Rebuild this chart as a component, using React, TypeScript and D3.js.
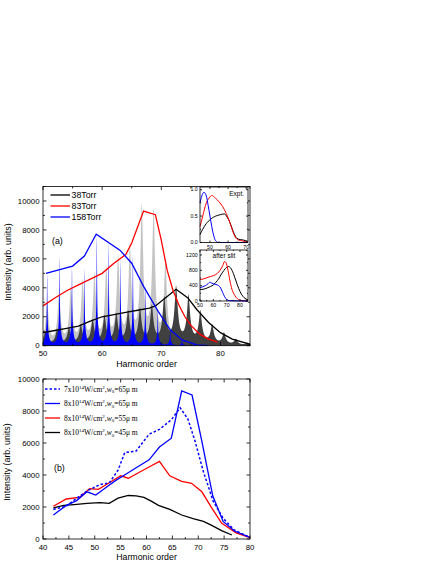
import { useMemo } from 'react'
import * as d3 from 'd3'

// ---- panel (a): envelopes ----
const ENV_38 = [[50, 900], [52, 1050], [54, 1200], [56, 1350], [58, 1700], [60, 2000], [62, 2150], [64, 2300], [66, 2450], [68, 2600], [69, 2750], [71, 3400], [72.5, 3900], [74.5, 3300], [76, 2500], [78, 1600], [80, 900], [82, 450], [85, 100]]
const ENV_83 = [[50, 2750], [52, 3300], [54, 3800], [56, 4200], [58, 4600], [60, 5000], [62, 5700], [64, 6300], [65, 7100], [67, 9300], [69, 9050], [70, 7300], [71, 5200], [72, 3800], [73, 2800], [74, 2000], [75, 1400], [76.5, 800], [78, 450], [79.5, 250]]
const ENV_158 = [[50.5, 5000], [55, 5500], [57, 6200], [59, 7700], [63, 6600], [65, 5700], [67, 4100], [69.5, 2350], [71.5, 1100], [73.5, 400], [76, 60], [78, 0]]

// ---- panel (a): harmonic peaks of the spectra [order, height] ----
const PEAKS_83 = [[50.7, 2900], [52.7, 3350], [54.7, 3750], [56.7, 4250], [58.7, 4650], [60.7, 5050], [62.7, 5850], [64.7, 6400], [66.7, 9300], [68.7, 9050], [70.7, 5500], [72.7, 2900], [74.7, 1600], [76.7, 800], [78.7, 400], [80.7, 150]]
const PEAKS_38 = [[50.4, 950], [52.4, 1050], [54.4, 1150], [56.4, 1300], [58.4, 1650], [60.4, 1900], [62.4, 2050], [64.4, 2200], [66.4, 2350], [68.4, 2550], [70.5, 3100], [72.5, 3850], [74.6, 3250], [76.6, 2200], [78.6, 1300], [80.6, 800], [82.6, 400], [84.6, 150]]
const PEAKS_158 = [[50.7, 5000], [52.8, 6200], [54.9, 5500], [57.0, 5300], [59.1, 7700], [61.1, 7100], [63.1, 5900], [65.2, 6300], [67.3, 4100], [69.4, 2500], [71.5, 1200], [73.5, 450], [75.5, 120]]

// ---- insets ----
const EXPT_38 = [[44.5, 0.15], [46, 0.25], [48, 0.36], [50, 0.43], [52, 0.48], [54, 0.51], [56, 0.53], [58, 0.54], [59.5, 0.48], [61, 0.38], [62.5, 0.24], [64, 0.12], [66, 0.06], [68, 0.05], [71, 0.02]]
const EXPT_83 = [[44.5, 0.3], [46, 0.5], [48, 0.75], [50, 0.86], [51, 0.89], [53, 0.84], [55, 0.77], [57, 0.68], [59, 0.55], [61, 0.38], [62.5, 0.22], [64, 0.1], [65.5, 0.05], [68, 0.03], [71, 0.0]]
const EXPT_158 = [[44.5, 0.75], [45.5, 0.88], [46.7, 0.95], [48, 0.88], [49, 0.7], [50, 0.5], [51, 0.3], [52, 0.14], [53, 0.04], [54.5, 0.0], [71, 0.0]]
const SLIT_38 = [[50, 300], [53, 310], [56, 350], [58, 380], [60, 420], [62, 490], [64, 580], [66, 700], [68, 800], [70, 880], [71.5, 900], [73, 860], [75, 720], [77, 520], [79, 330], [81, 180], [83, 90], [86, 30]]
const SLIT_83 = [[50, 560], [53, 580], [56, 620], [60, 660], [63, 720], [65, 800], [67, 920], [68.5, 1030], [69.5, 1000], [71, 800], [72.5, 520], [74, 300], [76, 150], [78, 60], [80, 20], [86, 0]]
const SLIT_158 = [[50, 350], [52, 370], [54, 400], [56, 450], [57.5, 490], [58.5, 470], [60, 450], [62, 430], [64, 400], [65.5, 340], [67, 220], [68.5, 110], [70, 40], [72, 10], [86, 0]]

// ---- panel (b) ----
const B_7_65 = [[42, 1850], [44.5, 2050], [46.5, 2550], [48.8, 3050], [51, 3400], [52.8, 3500], [54.5, 4300], [55.8, 5400], [58, 5500], [60.5, 6550], [62.5, 6850], [64.8, 7450], [66.5, 8200], [68, 7500], [69.4, 6100], [71, 4200], [72.9, 2350], [74.8, 1300], [77, 550], [80, 100]]
const B_8_65 = [[42, 1500], [44.5, 2100], [46.5, 2400], [48.5, 2950], [50.2, 2750], [52.3, 3250], [54, 3650], [56, 4050], [58, 4450], [60.5, 4950], [62.5, 5750], [64.8, 6300], [66.8, 9250], [68.8, 9000], [70.7, 6100], [72.8, 2700], [74.8, 1100], [77, 500], [80, 100]]
const B_8_55 = [[42, 2050], [44.5, 2500], [47, 2600], [49, 3150], [50.7, 3100], [52.5, 3450], [55, 3950], [56.5, 3800], [58.8, 4200], [60.5, 4500], [62.5, 4850], [64.5, 3950], [66.8, 3600], [68.7, 3480], [70.7, 2950], [72.6, 1950], [74.5, 1000], [77.3, 380], [80, 80]]
const B_8_45 = [[42, 1950], [44, 2100], [46, 2150], [48.5, 2230], [51, 2270], [52.8, 2230], [54.5, 2550], [56.5, 2720], [58, 2700], [59.5, 2600], [61, 2350], [62.3, 2100], [64.5, 1850], [66.8, 1500], [69, 1280], [71, 1100], [72.6, 850], [74.5, 520], [76.5, 250]]

const LEGEND_A = ['38Torr', '83Torr', '158Torr']
const LEGEND_B = [
  { i: '7', w: '65', dash: true, color: '#0000ff' },
  { i: '8', w: '65', dash: false, color: '#0000ff' },
  { i: '8', w: '55', dash: false, color: '#ff0000' },
  { i: '8', w: '45', dash: false, color: '#000000' },
]

const SANS = '"Liberation Sans", Arial, sans-serif'
const SERIF = '"Liberation Serif", "Times New Roman", serif'

type P = number[][]

// peak profile: a narrow needle plus a wider foot
function spectrum(peaks: P, x0: number, x1: number, needle: number, foot: number, mix: number) {
  const pts: [number, number][] = []
  for (let x = x0; x <= x1 + 1e-9; x += 0.02) {
    let v = 0
    for (const [c, h] of peaks) {
      const d = x - c
      v += h * ((1 - mix) / (1 + (d / needle) ** 2) + mix / (1 + (d / foot) ** 2))
    }
    pts.push([x, v])
  }
  return pts
}

function Ticks({ x, y, xMajor, xMinor, yMajor, yMinor, len, xFmt, yFmt, fs, xOff }: any) {
  const [x0, x1] = x.range()
  const [y0, y1] = y.range()
  const L = len, l = len * 0.55
  return (
    <g stroke="#000" strokeWidth={0.8}>
      {xMinor.map((v: number) => (
        <g key={'xm' + v}>
          <line x1={x(v)} x2={x(v)} y1={y0} y2={y0 - l} />
          <line x1={x(v)} x2={x(v)} y1={y1} y2={y1 + l} />
        </g>
      ))}
      {yMinor.map((v: number) => (
        <g key={'ym' + v}>
          <line x1={x0} x2={x0 + l} y1={y(v)} y2={y(v)} />
          <line x1={x1} x2={x1 - l} y1={y(v)} y2={y(v)} />
        </g>
      ))}
      {xMajor.map((v: number) => (
        <g key={'xM' + v}>
          <line x1={x(v)} x2={x(v)} y1={y0} y2={y0 - L} />
          <line x1={x(v)} x2={x(v)} y1={y1} y2={y1 + L} />
          <text x={x(v)} y={y0 + xOff} fontSize={fs} textAnchor="middle" stroke="none" fill="#000">{xFmt(v)}</text>
        </g>
      ))}
      {yMajor.map((v: number) => (
        <g key={'yM' + v}>
          <line x1={x0} x2={x0 + L} y1={y(v)} y2={y(v)} />
          <line x1={x1} x2={x1 - L} y1={y(v)} y2={y(v)} />
          <text x={x0 - fs * 0.45} y={y(v) + fs * 0.35} fontSize={fs} textAnchor="end" stroke="none" fill="#000">{yFmt(v)}</text>
        </g>
      ))}
      <rect x={x0} y={y1} width={x1 - x0} height={y0 - y1} fill="none" />
    </g>
  )
}

export default function App() {
  // panel (a)
  const xa = d3.scaleLinear().domain([50, 85]).range([43, 250])
  const ya = d3.scaleLinear().domain([0, 11000]).range([345.7, 186.5])
  // panel (b)
  const xb = d3.scaleLinear().domain([40, 80]).range([43, 250])
  const yb = d3.scaleLinear().domain([0, 10000]).range([539, 379])
  // insets
  const xi1 = d3.scaleLinear().domain([44.5, 71]).range([200, 248])
  const yi1 = d3.scaleLinear().domain([0, 1.05]).range([242.5, 187])
  const xi2 = d3.scaleLinear().domain([50, 86]).range([200, 248])
  const yi2 = d3.scaleLinear().domain([0, 1330]).range([301, 250])

  const lineA = d3.line<number[]>().x(d => xa(d[0])).y(d => ya(d[1]))
  const lineB = d3.line<number[]>().x(d => xb(d[0])).y(d => yb(d[1]))
  const lineI1 = d3.line<number[]>().x(d => xi1(d[0])).y(d => yi1(d[1])).curve(d3.curveMonotoneX)
  const lineI2 = d3.line<number[]>().x(d => xi2(d[0])).y(d => yi2(d[1])).curve(d3.curveMonotoneX)
  const area = d3.area<[number, number]>().x(d => xa(d[0])).y0(ya(0)).y1(d => ya(Math.min(d[1], 11000)))

  const spec = useMemo(() => ({
    s83: spectrum(PEAKS_83, 50, 85, 0.24, 0.5, 0.3),
    s38: spectrum(PEAKS_38, 50, 85, 0.25, 0.6, 0.35),
    s158: spectrum(PEAKS_158, 50, 85, 0.05, 0.3, 0.22),
  }), [])

  const range = (a: number, b: number, s: number) => d3.range(a, b + 1e-9, s)

  return (
    <svg width={436} height={564} style={{ position: 'absolute', left: 0, top: 0, display: 'block', fontFamily: SANS }}>
      <defs>
        <clipPath id="clipA"><rect x={43} y={186.5} width={207} height={159.2} /></clipPath>
        <clipPath id="clipB"><rect x={43} y={379} width={207} height={160} /></clipPath>
      </defs>

      {/* ---------- panel (a) ---------- */}
      <g clipPath="url(#clipA)">
        <path d={area(spec.s83) || ''} fill="#c4c4c4" />
        <path d={area(spec.s38) || ''} fill="#404040" />
        <path d={area(spec.s158) || ''} fill="#0000ff" />
        <path d={lineA(ENV_38) || ''} fill="none" stroke="#000" strokeWidth={1.3} />
        <path d={lineA(ENV_83) || ''} fill="none" stroke="#ff0000" strokeWidth={1.3} />
        <path d={lineA(ENV_158) || ''} fill="none" stroke="#0000ff" strokeWidth={1.3} />
      </g>
      <Ticks x={xa} y={ya} xMajor={[50, 60, 70, 80]} xMinor={[55, 65, 75, 85]}
        yMajor={range(0, 10000, 2000)} yMinor={range(1000, 11000, 2000)} len={3.5}
        xFmt={(v: number) => v} yFmt={(v: number) => v} fs={7.8} xOff={10.5} />
      <text x={146.5} y={366.5} fontSize={8.8} textAnchor="middle">Harmonic order</text>
      <text transform="translate(10.5,262) rotate(-90)" fontSize={8.8} textAnchor="middle">Intensity (arb. units)</text>
      <text x={52} y={244} fontSize={8.8}>(a)</text>
      {LEGEND_A.map((t, i) => (
        <g key={t}>
          <line x1={50.5} x2={70} y1={195 + i * 11} y2={195 + i * 11} stroke={['#000', '#ff0000', '#0000ff'][i]} strokeWidth={1.3} />
          <text x={71.5} y={198 + i * 11} fontSize={8.8}>{t}</text>
        </g>
      ))}

      {/* inset: Expt. */}
      <rect x={200} y={187} width={48} height={55.5} fill="#fff" />
      <path d={lineI1(EXPT_38) || ''} fill="none" stroke="#000" strokeWidth={1} />
      <path d={lineI1(EXPT_83) || ''} fill="none" stroke="#ff0000" strokeWidth={1} />
      <path d={lineI1(EXPT_158) || ''} fill="none" stroke="#0000ff" strokeWidth={1} />
      <Ticks x={xi1} y={yi1} xMajor={[50, 60, 70]} xMinor={[55, 65]}
        yMajor={[0, 0.5, 1.0]} yMinor={[0.25, 0.75]} len={2}
        xFmt={(v: number) => v} yFmt={(v: number) => v.toFixed(1)} fs={5.2} xOff={6} />
      <text x={244} y={196} fontSize={6.5} textAnchor="end">Expt.</text>

      {/* inset: after slit */}
      <rect x={200} y={250} width={48} height={51} fill="#fff" />
      <path d={lineI2(SLIT_38) || ''} fill="none" stroke="#000" strokeWidth={1} />
      <path d={lineI2(SLIT_83) || ''} fill="none" stroke="#ff0000" strokeWidth={1} />
      <path d={lineI2(SLIT_158) || ''} fill="none" stroke="#0000ff" strokeWidth={1} />
      <Ticks x={xi2} y={yi2} xMajor={[50, 60, 70, 80]} xMinor={[55, 65, 75, 85]}
        yMajor={[0, 400, 800, 1200]} yMinor={[200, 600, 1000]} len={2}
        xFmt={(v: number) => v} yFmt={(v: number) => v} fs={5.2} xOff={6} />
      <text x={224} y={258} fontSize={6.5} textAnchor="middle">after slit</text>

      {/* ---------- panel (b) ---------- */}
      <g clipPath="url(#clipB)">
        <path d={lineB(B_8_45) || ''} fill="none" stroke="#000" strokeWidth={1.3} />
        <path d={lineB(B_8_55) || ''} fill="none" stroke="#ff0000" strokeWidth={1.3} />
        <path d={lineB(B_7_65) || ''} fill="none" stroke="#0000ff" strokeWidth={1.5} strokeDasharray="2.5,2" />
        <path d={lineB(B_8_65) || ''} fill="none" stroke="#0000ff" strokeWidth={1.3} />
      </g>
      <Ticks x={xb} y={yb} xMajor={range(40, 80, 5)} xMinor={range(42.5, 77.5, 5)}
        yMajor={range(0, 10000, 2000)} yMinor={range(1000, 9000, 2000)} len={3.5}
        xFmt={(v: number) => v} yFmt={(v: number) => v} fs={7.8} xOff={10.5} />
      <text x={146.5} y={560} fontSize={8.8} textAnchor="middle">Harmonic order</text>
      <text transform="translate(10,462) rotate(-90)" fontSize={8.8} textAnchor="middle">Intensity (arb. units)</text>
      <text x={54} y={470.5} fontSize={8.8}>(b)</text>
      {LEGEND_B.map((d, i) => {
        const y = 389 + i * 14.5
        return (
          <g key={i}>
            <line x1={45} x2={60} y1={y} y2={y} stroke={d.color} strokeWidth={d.dash ? 1.5 : 1.3} strokeDasharray={d.dash ? '2.5,2' : undefined} />
            <text x={64} y={y + 2.8} fontSize={7.5} fontFamily={SERIF}>
              {d.i}x10<tspan fontSize={5} dy={-3}>14</tspan>
              <tspan dy={3}>W/cm</tspan><tspan fontSize={5} dy={-3}>2</tspan>
              <tspan dy={3}>,</tspan><tspan fontStyle="italic">w</tspan><tspan fontSize={5} dy={1.5}>0</tspan>
              <tspan dy={-1.5}>={d.w}μ m</tspan>
            </text>
          </g>
        )
      })}
    </svg>
  )
}
